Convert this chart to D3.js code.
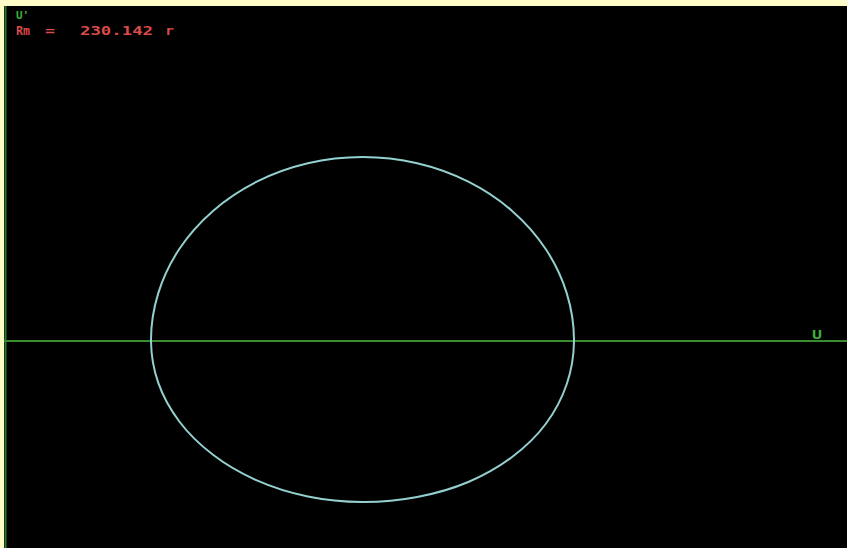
<!DOCTYPE html>
<html><head><meta charset="utf-8">
<script src="https://cdn.jsdelivr.net/npm/d3@7"></script>
<style>html,body{margin:0;padding:0;background:#fffcc8;}svg{display:block}</style>
</head><body>
<script>
// Phase trajectory points (U, U')
const uValues  = [568,560.8,539.7,506.1,462.3,411.2,356.5,301.8,250.8,207.0,173.3,152.2,145,152.2,173.3,207.0,250.8,301.8,356.5,411.2,462.3,506.1,539.7,560.8];
const upValues = [0,47.6,92,130.1,159.3,177.7,184,177.7,159.3,130.1,92,47.6,0,-41.7,-80.5,-113.8,-139.4,-155.5,-161,-156,-141,-116,-83,-43];
const axisLabels = {x: "U", y: "U'"};
const rmLabel = ["Rm", "="];
const rmValue = ["230.142", "r"];

const W = 847, H = 548;
const svg = d3.select("body").append("svg").attr("width", W).attr("height", H);
svg.append("rect").attr("width", W).attr("height", H).attr("fill", "#fffcc8");
svg.append("rect").attr("x", 4).attr("y", 6).attr("width", W - 4).attr("height", H - 6).attr("fill", "#000");

const x = d3.scaleLinear().domain([0, 841]).range([6, 847]);
const y = d3.scaleLinear().domain([335, -207]).range([6, 548]);

// axes
svg.append("line").attr("x1", x(-0.5)).attr("x2", x(-0.5)).attr("y1", 6).attr("y2", H)
  .attr("stroke", "#2c7a2a").attr("stroke-width", 2);
svg.append("line").attr("x1", 4).attr("x2", W).attr("y1", y(0)).attr("y2", y(0))
  .attr("stroke", "#3a8c2e").attr("stroke-width", 2);

const pts = uValues.map((u, i) => [u, upValues[i]]);
const line = d3.line().x(d => x(d[0])).y(d => y(d[1])).curve(d3.curveCatmullRomClosed.alpha(0.5));
svg.append("path").attr("d", line(pts)).attr("fill", "none")
  .attr("stroke", "#93d0cf").attr("stroke-width", 2);

const font = "'DejaVu Sans Mono', monospace";
const txt = (s, px, py, col, size, len) => {
  const t = svg.append("text").attr("x", px).attr("y", py).text(s)
    .attr("fill", col).attr("font-family", font).attr("font-size", size).attr("font-weight", "bold");
  if (len) t.attr("textLength", len).attr("lengthAdjust", "spacingAndGlyphs");
  return t;
};
const red = "#d94a4a", green = "#3fae3a";
txt(axisLabels.y, 16, 19, green, 11);
txt(rmLabel[0], 16, 35, red, 12, 14);
txt(rmLabel[1], 45, 35, red, 12, 10);
txt(rmValue[0], 80, 35, red, 12, 73);
txt(rmValue[1], 165, 35, red, 12, 9);
txt(axisLabels.x, 812, 339, green, 13, 10);
</script>
</body></html>
